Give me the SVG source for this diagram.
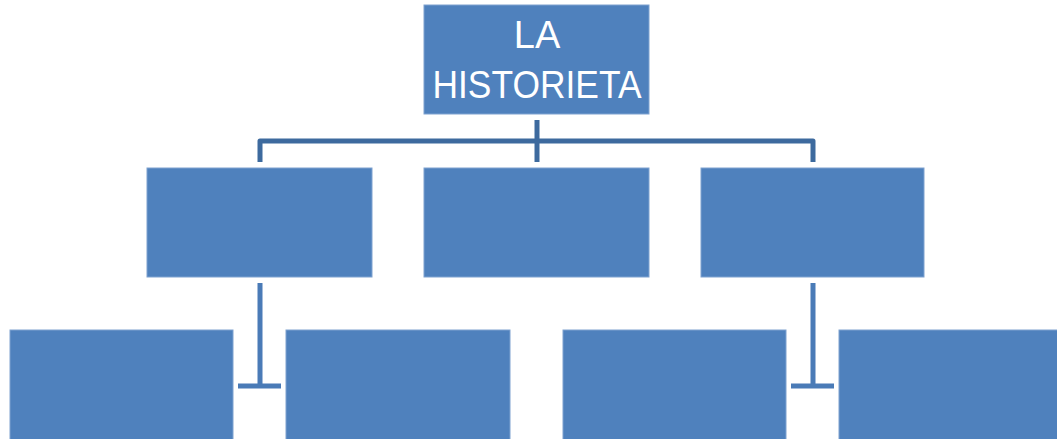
<svg xmlns="http://www.w3.org/2000/svg" width="1057" height="439" viewBox="0 0 1057 439">
<style>
.box{fill:#4F81BD;stroke:#7FA2D0;stroke-width:1}
.top{fill:none;stroke:#3D6A9E;stroke-width:5;stroke-linejoin:round}
.sub{fill:none;stroke:#4A7BB7;stroke-width:5}
.lbl{fill:#fff;font-family:"Liberation Sans",Arial,sans-serif;font-size:38px;text-anchor:middle}
</style>
<rect width="1057" height="439" fill="#fff"/>
<g id="connectors">
<path class="top" d="M260,162 V141 H813 V162"/>
<path class="top" d="M537,120 V162"/>
<path class="sub" d="M260,283 V386 M238,386 H281"/>
<path class="sub" d="M813,283 V386 M791,386 H834"/>
</g>
<g id="root"><rect class="box" x="424" y="5" width="225" height="109"/>
<text class="lbl" x="537" y="48">LA</text>
<text class="lbl" x="537" y="98" textLength="209" lengthAdjust="spacingAndGlyphs">HISTORIETA</text></g>
<g id="n1"><rect class="box" x="147" y="168" width="225" height="109"/></g>
<g id="n2"><rect class="box" x="424" y="168" width="225" height="109"/></g>
<g id="n3"><rect class="box" x="701" y="168" width="223" height="109"/></g>
<g id="n4"><rect class="box" x="10" y="330" width="223" height="115"/></g>
<g id="n5"><rect class="box" x="286" y="330" width="224" height="115"/></g>
<g id="n6"><rect class="box" x="563" y="330" width="223" height="115"/></g>
<g id="n7"><rect class="box" x="839" y="330" width="224" height="115"/></g>
</svg>
